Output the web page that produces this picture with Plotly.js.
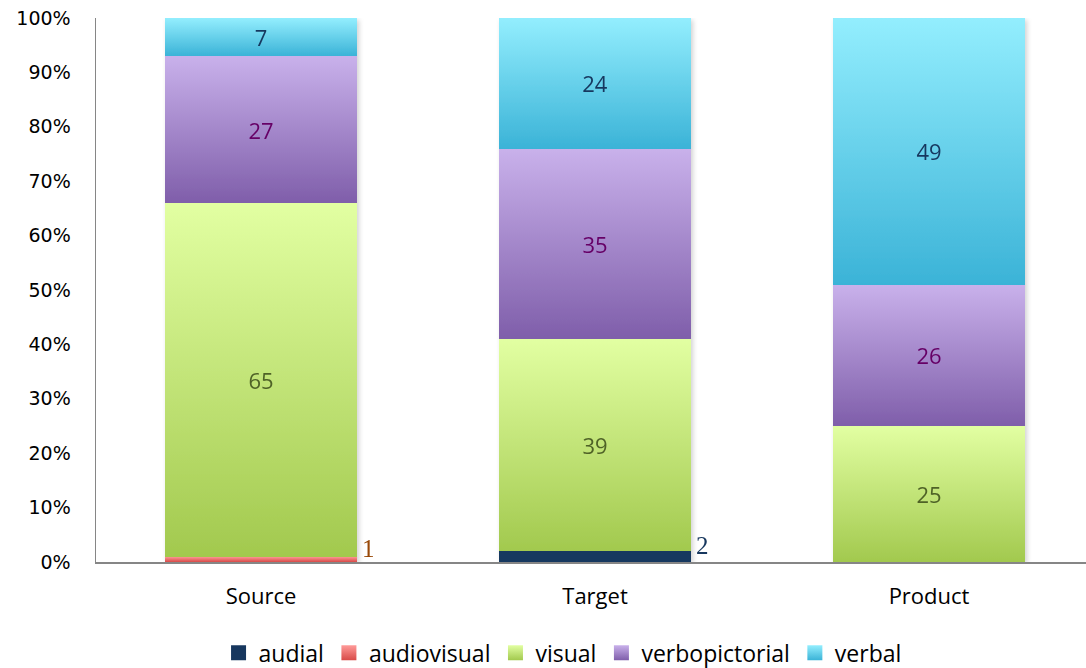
<!DOCTYPE html>
<html>
<head>
<meta charset="utf-8">
<script src="https://cdn.plot.ly/plotly-3.0.1.min.js"></script>
<style>
html,body{margin:0;padding:0;background:#fff;}
#chart{width:1086px;height:668px;}
</style>
</head>
<body>
<div id="chart"></div>
<script>
// ---- data ----
const categories = ["Source", "Target", "Product"];
const seriesNames = ["audial", "audiovisual", "visual", "verbopictorial", "verbal"];
const audial = [0, 2, 0];
const audiovisual = [1, 0, 0];
const visual = [65, 39, 25];
const verbopictorial = [27, 35, 26];
const verbal = [7, 24, 49];
const yTickVals = [0, 10, 20, 30, 40, 50, 60, 70, 80, 90, 100];
const yTickText = ["0%", "10%", "20%", "30%", "40%", "50%", "60%", "70%", "80%", "90%", "100%"];

// ---- styles ----
const seriesValues = [audial, audiovisual, visual, verbopictorial, verbal];
const midColors = ["#17375e", "#ee7a78", "#c3e07c", "#a488cc", "#6ad0ea"];
const gradTop = ["#17375e", "#ff9b99", "#e2ffa2", "#c9b1eb", "#93eefe"];
const gradBot = ["#17375e", "#d84a48", "#a2c94e", "#7f5eaa", "#3bb3d7"];
const labelColors = ["#17375e", "#984807", "#4f6228", "#660066", "#17375e"];

const traces = seriesNames.map((name, i) => ({
  type: "bar",
  name: name,
  x: categories,
  y: seriesValues[i],
  text: seriesValues[i].map(v => v > 2 ? String(v) : ""),
  textposition: "inside",
  insidetextanchor: "middle",
  textangle: 0,
  textfont: {family: "Open Sans, sans-serif", size: 22, color: labelColors[i]},
  marker: {color: midColors[i], line: {width: 0}},
  hoverinfo: "skip"
}));

// small segment labels drawn outside, to the right of the bar
const annotations = [];
seriesValues.forEach((vals, i) => {
  vals.forEach((v, j) => {
    if (v > 0 && v <= 2) {
      let base = 0;
      for (let k = 0; k < i; k++) base += seriesValues[k][j];
      annotations.push({
        x: categories[j], y: base + v / 2, xref: "x", yref: "y",
        text: String(v), showarrow: false, xanchor: "left", yanchor: "middle",
        xshift: 99, yshift: 11,
        font: {family: "Liberation Serif, DejaVu Serif, serif", size: 25, color: labelColors[i]}
      });
    }
  });
});

const layout = {
  width: 1086, height: 668,
  margin: {l: 96, r: 0, t: 18, b: 106, autoexpand: false},
  paper_bgcolor: "#ffffff",
  plot_bgcolor: "#ffffff",
  barmode: "stack",
  bargap: 0.428,
  showlegend: true,
  legend: {
    orientation: "h", xref: "container", yref: "container",
    x: 0.518, xanchor: "center", y: 0.055, yanchor: "top",
    font: {family: "Open Sans, sans-serif", size: 23, color: "#000"},
    itemwidth: 30, tracegroupgap: 0, traceorder: "normal"
  },
  xaxis: {
    range: [-0.494, 2.47],
    showline: true, linecolor: "#868686", linewidth: 1.5,
    showgrid: false, zeroline: false, ticks: "",
    ticklabelstandoff: 14,
    tickfont: {family: "Open Sans, sans-serif", size: 22, color: "#000"}
  },
  yaxis: {
    range: [0, 100],
    tickvals: yTickVals, ticktext: yTickText,
    showline: true, linecolor: "#868686", linewidth: 1.5,
    showgrid: false, zeroline: false, ticks: "",
    ticklabelstandoff: 20,
    tickfont: {family: "DejaVu Sans, sans-serif", size: 19, color: "#000"}
  },
  annotations: annotations
};

const NS = "http://www.w3.org/2000/svg";
function applyGradients(gd) {
  const svg = gd.querySelector(".main-svg");
  if (!svg) return;
  let defs = svg.querySelector("defs#gradDefs");
  if (!defs) {
    defs = document.createElementNS(NS, "defs");
    defs.setAttribute("id", "gradDefs");
    seriesNames.forEach((n, i) => {
      const lg = document.createElementNS(NS, "linearGradient");
      lg.setAttribute("id", "grad" + i);
      lg.setAttribute("x1", "0"); lg.setAttribute("y1", "0");
      lg.setAttribute("x2", "0"); lg.setAttribute("y2", "1");
      const s1 = document.createElementNS(NS, "stop");
      s1.setAttribute("offset", "0"); s1.setAttribute("stop-color", gradTop[i]);
      const s2 = document.createElementNS(NS, "stop");
      s2.setAttribute("offset", "1"); s2.setAttribute("stop-color", gradBot[i]);
      lg.appendChild(s1); lg.appendChild(s2);
      defs.appendChild(lg);
    });
    const f = document.createElementNS(NS, "filter");
    f.setAttribute("id", "barShadow");
    f.setAttribute("x", "-10%"); f.setAttribute("y", "-10%");
    f.setAttribute("width", "120%"); f.setAttribute("height", "120%");
    const ds = document.createElementNS(NS, "feDropShadow");
    ds.setAttribute("dx", "2"); ds.setAttribute("dy", "2");
    ds.setAttribute("stdDeviation", "2.5");
    ds.setAttribute("flood-color", "#000"); ds.setAttribute("flood-opacity", "0.18");
    f.appendChild(ds);
    defs.appendChild(f);
    svg.insertBefore(defs, svg.firstChild);
  }
  const bl = gd.querySelector(".barlayer");
  if (bl) bl.setAttribute("filter", "url(#barShadow)");
  gd.querySelectorAll(".barlayer .trace").forEach((tr, i) => {
    tr.querySelectorAll(".point path").forEach(p => {
      p.style.fill = "url(#grad" + i + ")";
    });
  });
  gd.querySelectorAll(".legend .traces").forEach((tr, i) => {
    tr.querySelectorAll(".legendpoints path").forEach(p => {
      p.style.fill = "url(#grad" + i + ")";
      if (!p.hasAttribute("data-orig-t")) {
        p.setAttribute("data-orig-t", p.getAttribute("transform") || "");
      }
      p.setAttribute("transform", p.getAttribute("data-orig-t") + " scale(1.25)");
    });
  });
}

Plotly.newPlot("chart", traces, layout, {staticPlot: true, displayModeBar: false}).then(gd => {
  applyGradients(gd);
  gd.on("plotly_afterplot", () => applyGradients(gd));
});
</script>
</body>
</html>
